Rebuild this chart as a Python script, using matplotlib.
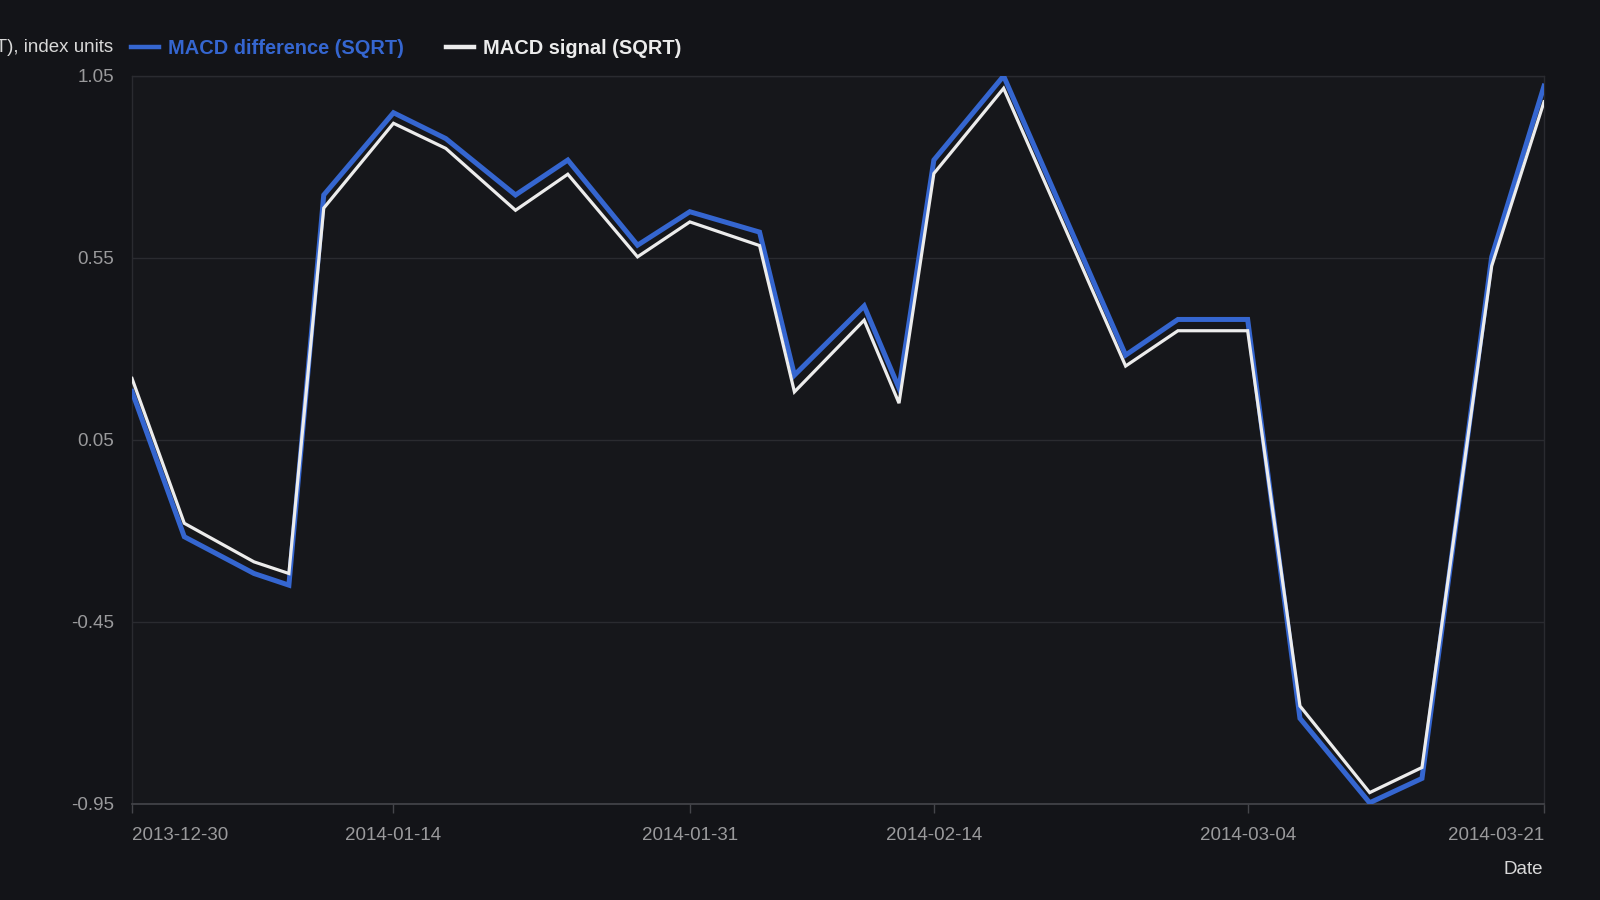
import numpy as np
import pandas as pd
import matplotlib
matplotlib.use("Agg")
import matplotlib.pyplot as plt
import matplotlib.dates as mdates

plt.rcParams['font.family'] = ['Liberation Sans', 'DejaVu Sans']

# data
dates = pd.to_datetime([
    "2013-12-30", "2014-01-02", "2014-01-06", "2014-01-08", "2014-01-10",
    "2014-01-14", "2014-01-17", "2014-01-21", "2014-01-24", "2014-01-28",
    "2014-01-31", "2014-02-04", "2014-02-06", "2014-02-10", "2014-02-12",
    "2014-02-14", "2014-02-18", "2014-02-25", "2014-02-28", "2014-03-04",
    "2014-03-07", "2014-03-11", "2014-03-14", "2014-03-18", "2014-03-21",
])
macd_diff = [0.182, -0.217, -0.318, -0.350, 0.722,
             0.948, 0.877, 0.722, 0.818, 0.584,
             0.676, 0.620, 0.227, 0.417, 0.191,
             0.818, 1.049, 0.282, 0.380, 0.380,
             -0.716, -0.948, -0.881, 0.552, 1.021]
macd_signal = [0.218, -0.180, -0.286, -0.318, 0.686,
               0.919, 0.850, 0.680, 0.779, 0.552,
               0.648, 0.583, 0.181, 0.378, 0.150,
               0.781, 1.015, 0.252, 0.349, 0.349,
               -0.682, -0.920, -0.851, 0.527, 0.978]

y_ticks = [-0.95, -0.45, 0.05, 0.55, 1.05]
x_ticks = pd.to_datetime(["2013-12-30", "2014-01-14", "2014-01-31",
                          "2014-02-14", "2014-03-04", "2014-03-21"])

bg = "#131418"
panel = "#16171b"
grid_c = "#2a2b30"
tick_c = "#9a9a9c"
text_c = "#d8d8d8"
blue = "#3566d0"
white = "#ececec"

fig = plt.figure(figsize=(16, 9), dpi=100, facecolor=bg)
ax = fig.add_axes([0.0825, 0.1072, 0.8825, 0.8088])
ax.set_facecolor(panel)

ax.plot(dates, macd_diff, color=blue, lw=3.6, label="MACD difference (SQRT)",
        solid_joinstyle="miter", zorder=3)
ax.plot(dates, macd_signal, color=white, lw=2.3, label="MACD signal (SQRT)",
        solid_joinstyle="miter", zorder=4)

ax.set_ylim(-0.95, 1.05)
ax.set_xlim(x_ticks[0], x_ticks[-1])
ax.set_yticks(y_ticks)
ax.set_yticklabels([f"{v:.2f}" for v in y_ticks])
ax.set_xticks(x_ticks)
ax.xaxis.set_major_formatter(mdates.DateFormatter("%Y-%m-%d"))

ax.grid(axis="y", color=grid_c, lw=1)
ax.set_axisbelow(True)
for side in ["left", "right", "top"]:
    ax.spines[side].set_color(grid_c)
    ax.spines[side].set_linewidth(1)
ax.spines["bottom"].set_color("#45464b")
ax.spines["bottom"].set_linewidth(1.2)

ax.tick_params(axis="y", length=0, pad=13, labelsize=13.5, labelcolor=tick_c)
ax.tick_params(axis="x", length=6.5, width=1, color="#45464b", pad=10.5,
               labelsize=13.5, labelcolor=tick_c)
xlabels = ax.get_xticklabels()
xlabels[0].set_horizontalalignment("left")
xlabels[-1].set_horizontalalignment("right")

# axis title sits at the top-left and runs off the left edge, as in the source
fig.text(113 / 1600, 1 - 47 / 900, "MACD (SQRT), index units", ha="right",
         va="center", fontsize=13.5, color=text_c)
fig.text(1543 / 1600, 1 - 869 / 900, "Date", ha="right", va="center",
         fontsize=13.5, color=text_c)

leg = fig.legend(loc="center left", bbox_to_anchor=(131 / 1600, 1 - 48 / 900),
                 ncol=2, frameon=False, fontsize=14.4, handlelength=1.4,
                 handletextpad=0.45, columnspacing=2.1, borderpad=0,
                 borderaxespad=0)
for txt, col in zip(leg.get_texts(), [blue, white]):
    txt.set_color(col)
    txt.set_fontweight("bold")
for line in leg.get_lines():
    line.set_linewidth(3.2)

fig.savefig("out.png", dpi=100, facecolor=bg)
